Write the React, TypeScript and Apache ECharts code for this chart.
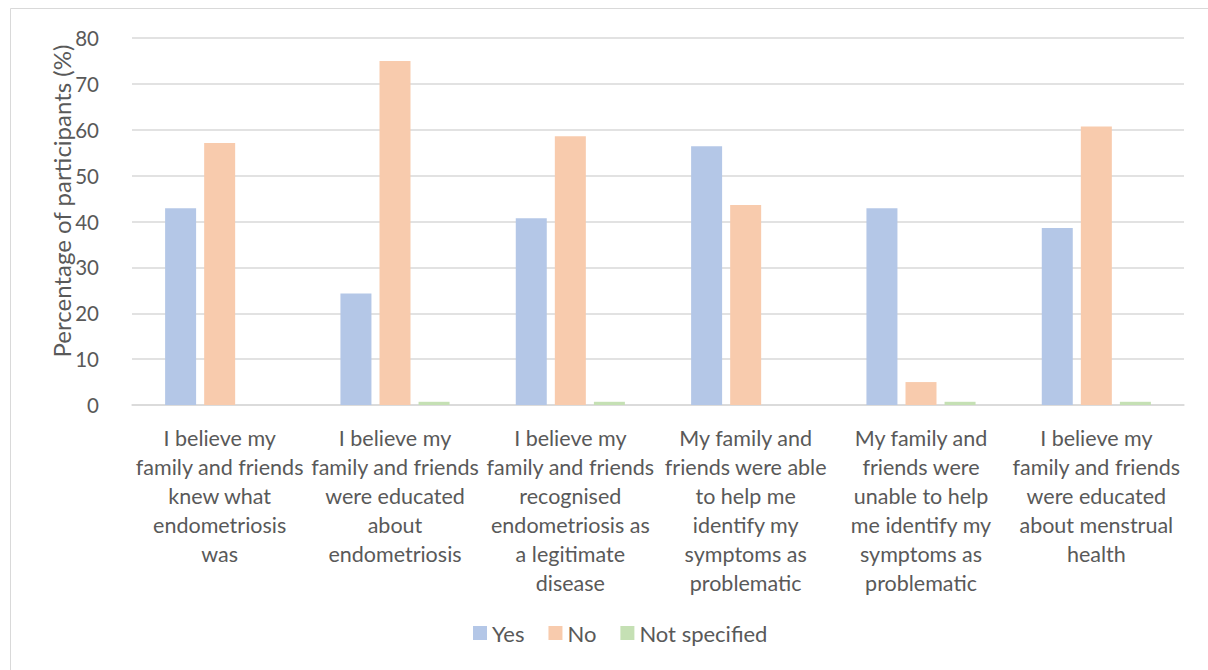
import React, { useEffect, useRef } from "react";
import * as echarts from "echarts";

const categories = [
  "I believe my\nfamily and friends\nknew what\nendometriosis\nwas",
  "I believe my\nfamily and friends\nwere educated\nabout\nendometriosis",
  "I believe my\nfamily and friends\nrecognised\nendometriosis as\na legitimate\ndisease",
  "My family and\nfriends were able\nto help me\nidentify my\nsymptoms as\nproblematic",
  "My family and\nfriends were\nunable to help\nme identify my\nsymptoms as\nproblematic",
  "I believe my\nfamily and friends\nwere educated\nabout menstrual\nhealth",
];
const yesValues = [42.9, 24.3, 40.7, 56.4, 42.9, 38.6];
const noValues = [57.1, 75.0, 58.6, 43.6, 5.0, 60.7];
const notSpecifiedValues = [0, 0.7, 0.7, 0, 0.7, 0.7];
const seriesNames = ["Yes", "No", "Not specified"];
const yTicks = { min: 0, max: 80, interval: 10 };

const FONT = "Lato, 'Noto Sans', sans-serif";
const TEXT = "#595959";

export default function App() {
  const ref = useRef<HTMLDivElement>(null);
  useEffect(() => {
    if (!ref.current) return;
    const chart = echarts.init(ref.current, null, { renderer: "svg" });
    const mk = (name: string, data: number[], color: string) => ({
      name,
      type: "bar",
      data,
      barWidth: 31,
      barGap: "26%",
      itemStyle: { color },
    });
    chart.setOption({
      animation: false,
      backgroundColor: "#ffffff",
      textStyle: { fontFamily: FONT },
      grid: { left: 132, right: 24, top: 38, bottom: 265, containLabel: false },
      legend: {
        data: seriesNames,
        bottom: 21,
        left: 468,
        itemWidth: 14,
        itemHeight: 14,
        itemGap: 24,
        icon: "rect",
        textStyle: { color: TEXT, fontSize: 22, fontFamily: FONT },
      },
      xAxis: {
        type: "category",
        data: categories,
        axisLine: { lineStyle: { color: "#d9d9d9", width: 1.5 } },
        axisTick: { show: false },
        axisLabel: {
          interval: 0,
          color: TEXT,
          fontSize: 21.5,
          lineHeight: 29,
          margin: 18,
          fontFamily: FONT,
        },
      },
      yAxis: {
        type: "value",
        min: yTicks.min,
        max: yTicks.max,
        interval: yTicks.interval,
        axisLine: { show: false },
        axisTick: { show: false },
        splitLine: { lineStyle: { color: "#d9d9d9", width: 1.5 } },
        axisLabel: { color: TEXT, fontSize: 20.5, margin: 33, fontFamily: FONT },
      },
      graphic: [
        {
          type: "rect",
          shape: { x: 10.5, y: 8.5, width: 1400, height: 1000 },
          style: { fill: "none", stroke: "#d9d9d9", lineWidth: 1 },
          silent: true,
        },
        {
          type: "text",
          x: 61,
          y: 201,
          rotation: Math.PI / 2,
          style: {
            text: "Percentage of participants (%)",
            fill: TEXT,
            fontSize: 24,
            fontFamily: FONT,
            align: "center",
            verticalAlign: "middle",
          },
        },
      ],
      series: [
        mk(seriesNames[0], yesValues, "#b4c7e7"),
        mk(seriesNames[1], noValues, "#f8cbad"),
        mk(seriesNames[2], notSpecifiedValues, "#c5e0b4"),
      ],
    });
    return () => chart.dispose();
  }, []);
  return (
    <div
      ref={ref}
      style={{ position: "fixed", left: 0, top: 0, width: 1208, height: 670 }}
    />
  );
}
